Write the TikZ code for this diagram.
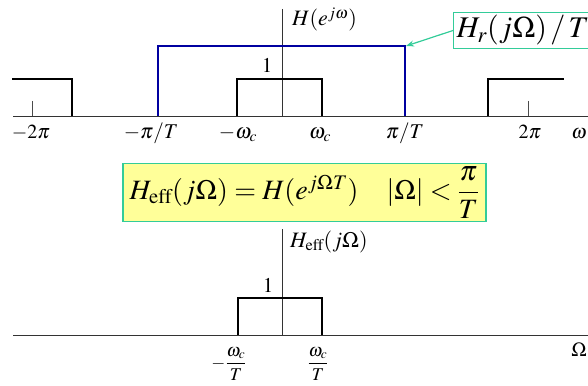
\documentclass[tikz,border=0pt]{standalone}
\usepackage{amsmath}
\usepackage{mathptmx}
\usepackage[no-math]{fontspec}
\setmainfont{Liberation Serif}
\usetikzlibrary{arrows.meta}

\definecolor{callgreen}{RGB}{51,204,153}
\definecolor{passblue}{RGB}{0,0,160}
\definecolor{boxyellow}{RGB}{255,255,153}

\tikzset{
  axis/.style={line width=0.8pt, black!80},
  band/.style={line width=2.2pt},
  ideal/.style={line width=1.6pt, passblue},
  tick/.style={line width=0.5pt, black!70},
  lbl/.style={font=\fontsize{21}{23}\selectfont, inner sep=0pt},
  callout/.style={draw=callgreen, line width=1.2pt, inner sep=3pt},
}

\begin{document}
\begin{tikzpicture}[x=1pt, y=-1pt] % one unit = one pixel of the reference
    \useasboundingbox (0, 0) rectangle (588, 385);

    % Upper plot: H(e^{jw})
    % Axes
    \draw[axis] (13, 116) -- (588, 116);
    \draw[axis] (282, 9) -- (282, 116);

    % Ticks at -2pi and 2pi
    \draw[tick] (32, 101) -- (32, 116);
    \draw[tick] (528, 101) -- (528, 116);

    % Ideal reconstruction filter
    \draw[ideal] (158, 116) -- (158, 46) -- (405, 46) -- (405, 116);
    \coordinate (corner) at (406, 46);

    % Periodic copies of the lowpass
    \draw[band] (12, 79) -- (72, 79) -- (72, 116);
    \draw[band] (237, 116) -- (237, 79) -- (322, 79) -- (322, 116);
    \draw[band] (488, 116) -- (488, 79) -- (564, 79);

    % Axis labels
    \node[lbl, anchor=base] (mtwopi) at (31, 138) {\fontsize{20}{22}\selectfont$-2\pi$};
    \node[lbl, anchor=base] (mpiT) at (151, 138) {$-\pi/T$};
    \node[lbl, anchor=base] (mwc) at (238, 138) {$-\omega_c$};
    \node[lbl, anchor=base] (wc) at (320, 138) {$\omega_c$};
    \node[lbl, anchor=base] (piT) at (405, 138) {$\pi/T$};
    \node[lbl, anchor=base] (twopi) at (530, 138) {\fontsize{20}{22}\selectfont$2\pi$};
    \node[lbl, anchor=base east] (omega) at (587, 138) {\fontsize{20}{22}\selectfont$\omega$};
    \node[lbl] (one) at (267, 65) {\fontsize{21}{23}\selectfont$1$};
    \node[lbl, anchor=base west] (Hname) at (292, 26) {\fontsize{22}{24}\selectfont$H(e^{j\omega})$};

    % Callout for the ideal filter
    \node[callout, anchor=west, minimum height=35pt] (Hr) at (453, 30.5)
        {\fontsize{30}{32}\selectfont$H_r(j\Omega)\,/\,T$\hspace{10pt}};
    \draw[callgreen, line width=1.2pt, -{Stealth[length=8pt, width=6pt]}] (Hr.west) -- (corner);

    % Effective response
    \node[callout, fill=boxyellow, minimum width=363pt, minimum height=55pt] (Heff) at (304.5, 192.5)
        {\fontsize{28}{30}\selectfont$H_{\mathrm{eff}}(j\Omega) = H(e^{j\Omega T})\quad |\Omega| < \dfrac{\pi}{T}$};

    % Lower plot: H_eff(jW)
    % Axes
    \draw[axis] (13, 335) -- (588, 335);
    \draw[axis] (282, 229) -- (282, 335);

    % Lowpass
    \draw[band] (238, 335) -- (238, 298) -- (322, 298) -- (322, 335);

    % Axis labels
    \node[lbl] (one2) at (268, 285) {\fontsize{21}{23}\selectfont$1$};
    \node[lbl, anchor=base west] (Heffname) at (290, 247) {\fontsize{22}{24}\selectfont$H_{\mathrm{eff}}(j\Omega)$};
    \node[lbl, anchor=north] (mwcT) at (229, 347) {\fontsize{18}{20}\selectfont$-\dfrac{\omega_c}{T}$};
    \node[lbl, anchor=north] (wcT) at (318, 347) {\fontsize{18}{20}\selectfont$\dfrac{\omega_c}{T}$};
    \node[lbl] (Omega) at (579, 350) {\fontsize{20}{22}\selectfont$\Omega$};
\end{tikzpicture}
\end{document}
